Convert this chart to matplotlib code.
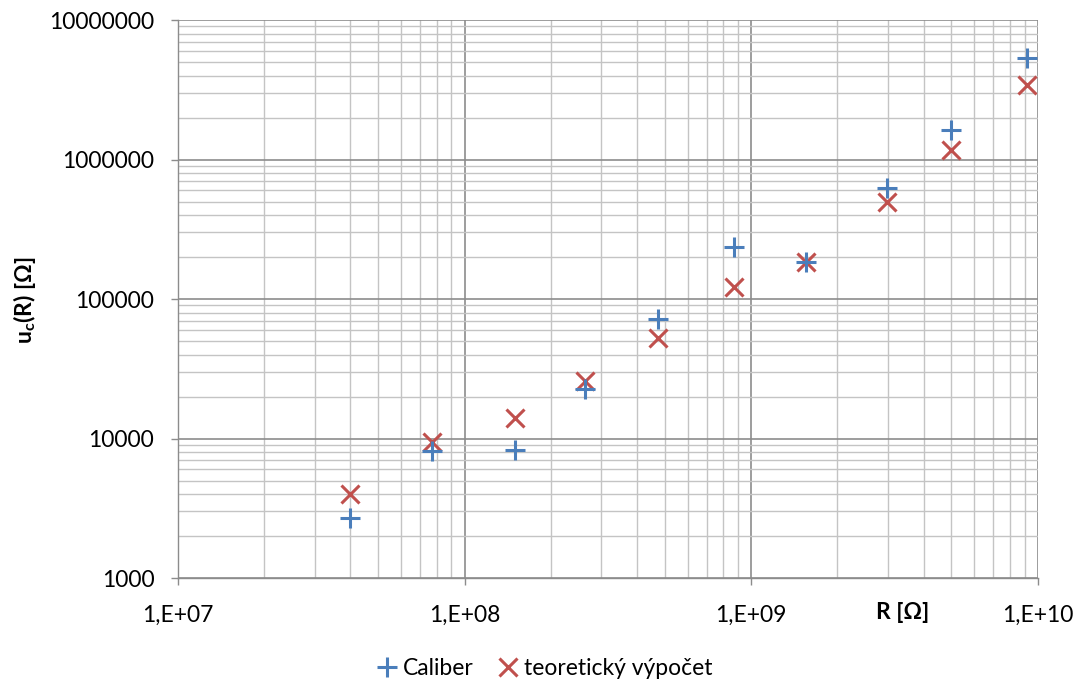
import numpy as np
import matplotlib
matplotlib.use("Agg")
import matplotlib.pyplot as plt
from matplotlib.ticker import FixedLocator, LogLocator, FuncFormatter, NullFormatter

plt.rcParams['font.family'] = ['Lato', 'DejaVu Sans']
plt.rcParams['mathtext.fontset'] = 'custom'
plt.rcParams['mathtext.rm'] = 'Lato'
plt.rcParams['mathtext.bf'] = 'Lato:bold'

# resistance values (ohm)
r_values = [4.0e7, 7.7e7, 1.5e8, 2.63e8, 4.72e8, 8.7e8, 1.55e9, 2.97e9, 5.0e9, 9.2e9]
# measured uncertainty (Caliber)
u_caliber = [2700, 8100, 8300, 22500, 72000, 236000, 184000, 625000, 1630000, 5300000]
# theoretical uncertainty
u_theory = [4000, 9400, 14000, 25800, 52500, 122000, 184000, 500000, 1170000, 3420000]

x_ticks = [1e7, 1e8, 1e9, 1e10]
y_ticks = [1e3, 1e4, 1e5, 1e6, 1e7]

blue = "#4A7EBB"
red = "#C0504D"

fig = plt.figure(figsize=(10.85, 6.86), dpi=100)
ax = fig.add_axes([0.164, 0.1574, 0.7924, 0.8134])

ax.plot(r_values, u_caliber, linestyle="none", marker="+",
        markersize=14, markeredgewidth=2.2, color=blue, label="Caliber", zorder=5)
ax.plot(r_values, u_theory, linestyle="none", marker="x",
        markersize=13, markeredgewidth=2.2, color=red,
        label="teoretický výpočet", zorder=4)

ax.set_xscale("log")
ax.set_yscale("log")
ax.set_xlim(1e7, 1e10)
ax.set_ylim(1e3, 1e7)

ax.xaxis.set_major_locator(FixedLocator(x_ticks))
ax.yaxis.set_major_locator(FixedLocator(y_ticks))
ax.xaxis.set_minor_locator(LogLocator(base=10, subs=np.arange(2, 10)))
ax.yaxis.set_minor_locator(LogLocator(base=10, subs=np.arange(2, 10)))
ax.xaxis.set_minor_formatter(NullFormatter())
ax.yaxis.set_minor_formatter(NullFormatter())
ax.xaxis.set_major_formatter(FuncFormatter(
    lambda v, p: "1,E+%02d" % int(round(np.log10(v)))))
ax.yaxis.set_major_formatter(FuncFormatter(lambda v, p: "%d" % int(round(v))))

ax.grid(True, which="major", color="#8c8c8c", linewidth=1.2)
ax.grid(True, which="minor", color="#c4c4c4", linewidth=1.0)
ax.set_axisbelow(True)

for s in ["top", "right"]:
    ax.spines[s].set_visible(False)
for s in ["left", "bottom"]:
    ax.spines[s].set_color("#8c8c8c")
    ax.spines[s].set_linewidth(1.0)

ax.tick_params(which="major", length=5, width=1, color="#8c8c8c",
               labelsize=16.5, labelcolor="black")
ax.tick_params(axis="x", which="major", pad=14)
ax.tick_params(axis="y", which="major", pad=12)
ax.tick_params(which="minor", length=0)

ax.set_xlabel("R [Ω]", fontsize=16.5, fontweight="bold")
ax.xaxis.set_label_coords(0.843, -0.061)
ax.xaxis.label.set_verticalalignment("center")
ax.set_ylabel(r"u$_{\mathbf{c}}$(R) [Ω]", fontsize=16.5, fontweight="bold")
ax.yaxis.set_label_coords(-0.178, 0.498)
ax.yaxis.label.set_verticalalignment("center")

fig.legend(loc="center", bbox_to_anchor=(0.5, 0.026), ncol=2, frameon=False,
           fontsize=16.5, handletextpad=0.1, columnspacing=0.9, handlelength=1.2)

fig.savefig("out.png", dpi=100)
